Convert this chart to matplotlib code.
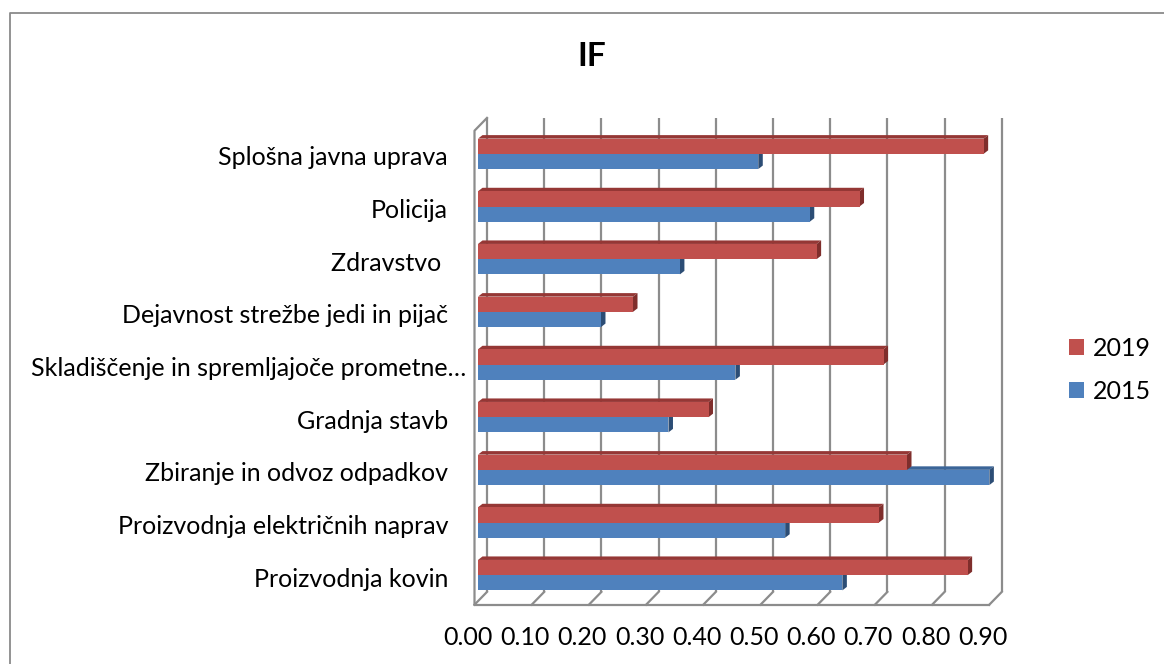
import numpy as np
import matplotlib.pyplot as plt
from matplotlib.patches import Polygon
from matplotlib.lines import Line2D
from matplotlib.transforms import ScaledTranslation

# IF by sector, 2015 vs 2019 (bottom to top as drawn)
categories = ["Proizvodnja kovin", "Proizvodnja električnih naprav",
              "Zbiranje in odvoz odpadkov", "Gradnja stavb",
              "Skladiščenje in spremljajoče prometne…",
              "Dejavnost strežbe jedi in pijač", "Zdravstvo ", "Policija",
              "Splošna javna uprava"]
if_2015 = [0.637, 0.537, 0.894, 0.333, 0.450, 0.215, 0.353, 0.580, 0.490]
if_2019 = [0.856, 0.701, 0.750, 0.403, 0.709, 0.271, 0.592, 0.667, 0.884]
xticks = np.arange(0, 0.91, 0.1)
series = ["2019", "2015"]

plt.rcParams['font.family'] = ['Lato', 'DejaVu Sans']
fs = 18

W, H = 1164, 664
fig = plt.figure(figsize=(W / 100, H / 100), dpi=100)
fig.patch.set_facecolor("white")

# outer chart frame: only left and top edges are inside the picture
fig.lines.append(Line2D([9.5 / W, 9.5 / W, 1.0], [0, 1 - 12.5 / H, 1 - 12.5 / H],
                        transform=fig.transFigure, color="#8a8a8a", lw=1.3))

ax = fig.add_axes([478 / W, (H - 601.5) / H, 514.8 / W, 474 / H])
ax.set_xlim(0, 0.9)
ax.set_ylim(-0.5, 8.5)
ax.axis("off")

sx = 0.9 / 514.8   # data units per pixel
sy = 9 / 474.0
grid_c = "#8c8c8c"
glw = 1.6

# back wall and floor
bx, by = 9 * sx, 9.6 * sy
fx, fy = -3.5 * sx, -3.2 * sy
for v in xticks:
    ax.plot([v + bx, v + bx], [-0.5 + by, 8.5 + by], color=grid_c, lw=glw,
            clip_on=False, zorder=0, solid_capstyle="butt")
    ax.plot([v + fx, v + bx], [-0.5 + fy, -0.5 + by], color=grid_c, lw=glw,
            clip_on=False, zorder=0)
ax.plot([fx, 0.9 + fx], [-0.5 + fy, -0.5 + fy], color=grid_c, lw=glw,
        clip_on=False, zorder=0)
ax.plot([fx, fx, bx], [-0.5 + fy, 8.5 + fy, 8.5 + by], color=grid_c, lw=glw,
        clip_on=False, zorder=0)

y = np.arange(len(categories))
h = 0.289
dx, dy = 4.5 * sx, 3.5 * sy


def faces(vals, ys, top_c, side_c, z):
    for v, yc in zip(vals, ys):
        y0, y1 = yc - h / 2, yc + h / 2
        ax.add_patch(Polygon([(0, y1), (v, y1), (v + dx, y1 + dy), (dx, y1 + dy)],
                             closed=True, facecolor=top_c, edgecolor="none",
                             zorder=z, clip_on=False))
        ax.add_patch(Polygon([(v, y0), (v + dx, y0 + dy), (v + dx, y1 + dy), (v, y1)],
                             closed=True, facecolor=side_c, edgecolor="none",
                             zorder=z, clip_on=False))


faces(if_2015, y - h / 2, "#3b6598", "#2c4d75", 2)
b15 = ax.barh(y - h / 2, if_2015, height=h, color="#4f81bd", zorder=3, clip_on=False)
faces(if_2019, y + h / 2, "#953735", "#7f2e2c", 4)
b19 = ax.barh(y + h / 2, if_2019, height=h, color="#c0504d", zorder=5, clip_on=False)

# category labels
for i, lab in enumerate(categories):
    shift = -12 if lab.endswith("…") else -30
    tr = ax.transData + ScaledTranslation(shift / 100, -4 / 100, fig.dpi_scale_trans)
    ax.text(0, i, lab, transform=tr, ha="right", va="center", fontsize=fs,
            color="black")

# value axis labels
for v in xticks:
    tr = ax.transData + ScaledTranslation(-10 / 100, -36 / 100, fig.dpi_scale_trans)
    ax.text(v, -0.5, f"{v:.2f}", transform=tr, ha="center", va="center",
            fontsize=fs, color="black")

fig.text(592 / W, 1 - 56 / H, "IF", ha="center", va="center", fontsize=24,
         fontweight="bold")

fig.legend([b19, b15], series, loc="upper left",
           bbox_to_anchor=(1069 / W, 1 - 337 / H), frameon=False, fontsize=fs,
           handlelength=0.6, handleheight=0.6, handletextpad=0.35,
           labelspacing=0.8, borderpad=0, borderaxespad=0)

fig.savefig("out.png", dpi=100)
